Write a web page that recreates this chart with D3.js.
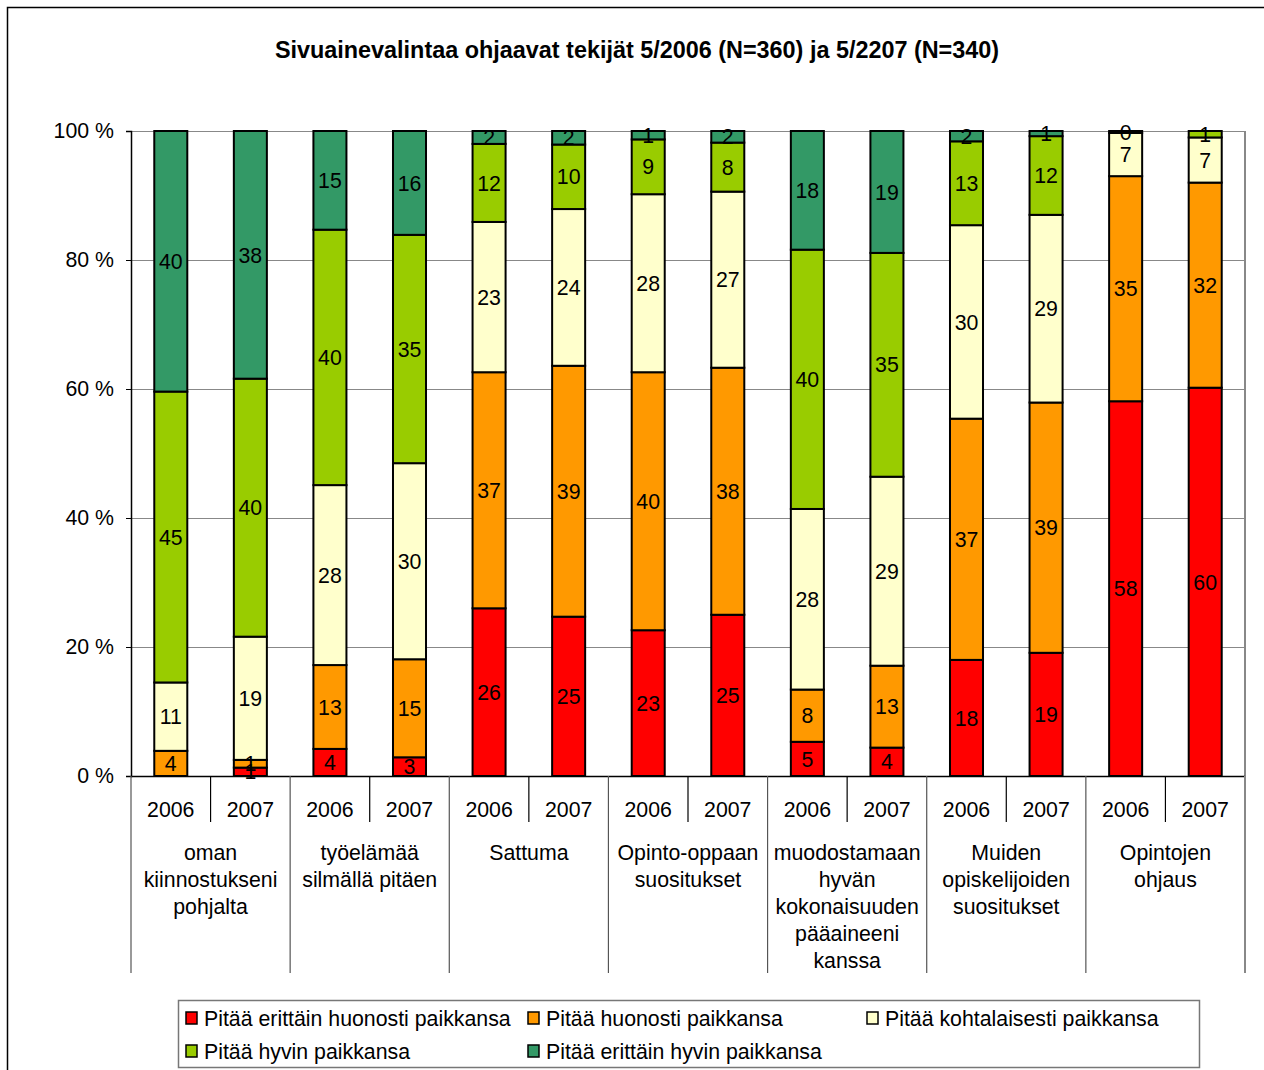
<!DOCTYPE html>
<html>
<head>
<meta charset="utf-8">
<script src="https://cdn.jsdelivr.net/npm/d3@7"></script>
<style>
  body { margin: 0; background: #fff; }
  svg text { font-family: "Liberation Sans", Arial, sans-serif; }
</style>
</head>
<body>
<div id="container"></div>
<script>
// bars: 14 columns, 2 years per group
var years = ["2006","2007","2006","2007","2006","2007","2006","2007","2006","2007","2006","2007","2006","2007"];
var groupLabels = [
  ["oman", "kiinnostukseni", "pohjalta"],
  ["työelämää", "silmällä pitäen"],
  ["Sattuma"],
  ["Opinto-oppaan", "suositukset"],
  ["muodostamaan", "hyvän", "kokonaisuuden", "pääaineeni", "kanssa"],
  ["Muiden", "opiskelijoiden", "suositukset"],
  ["Opintojen", "ohjaus"]
];
var seriesNames = [
  "Pitää erittäin huonosti paikkansa",
  "Pitää huonosti paikkansa",
  "Pitää kohtalaisesti paikkansa",
  "Pitää hyvin paikkansa",
  "Pitää erittäin hyvin paikkansa"
];
var seriesColors = ["#ff0000", "#ff9900", "#ffffcc", "#99cc00", "#339966"];

// percentages (null = no label / no segment)
var erittainHuonosti = [null, 1.3, 4.2, 2.9, 26.0, 24.7, 22.6, 25.0, 5.3, 4.4, 18.0, 19.1, 58.1, 60.2];
var huonosti         = [3.9, 1.2, 13.0, 15.2, 36.6, 38.9, 40.0, 38.3, 8.1, 12.7, 37.4, 38.8, 34.9, 31.8];
var kohtalaisesti    = [10.6, 19.1, 27.9, 30.4, 23.3, 24.3, 27.6, 27.3, 28.0, 29.3, 30.0, 29.1, 6.7, 7.0];
var hyvin            = [45.1, 40.0, 39.6, 35.4, 12.1, 10.0, 8.5, 7.6, 40.2, 34.7, 13.0, 12.2, null, 1.0];
var erittainHyvin    = [40.4, 38.4, 15.3, 16.1, 2.0, 2.1, 1.3, 1.8, 18.4, 18.9, 1.6, 0.8, 0.3, null];

var yTicks = [0, 20, 40, 60, 80, 100];

var series = [erittainHuonosti, huonosti, kohtalaisesti, hyvin, erittainHyvin];

(function() {
  var W = 1264, H = 1070;
  var pl = 131, pr = 1245, pt = 131, pb = 776;
  var fs = 21.3;

  var svg = d3.select('#container').append('svg')
    .attr('width', W).attr('height', H);

  // outer chart frame
  svg.append('rect')
    .attr('x', 7.5).attr('y', 7.5).attr('width', W + 10).attr('height', H + 10)
    .attr('fill', 'none').attr('stroke', '#000').attr('stroke-width', 1.5);

  svg.append('text')
    .attr('x', 637).attr('y', 58)
    .attr('text-anchor', 'middle')
    .attr('font-size', 23.4).attr('font-weight', 'bold')
    .text('Sivuainevalintaa ohjaavat tekijät 5/2006 (N=360) ja 5/2207 (N=340)');

  var x = d3.scaleBand()
    .domain(d3.range(years.length))
    .range([pl, pr])
    .paddingInner(0.585).paddingOuter(0.2925);
  var step = x.step();

  var y = d3.scaleLinear().domain([0, 100]).range([pb, pt]);

  // gridlines + plot border
  svg.append('g').selectAll('line').data(yTicks.filter(function(t) { return t > 0; }))
    .enter().append('line')
    .attr('x1', pl).attr('x2', pr)
    .attr('y1', function(d) { return y(d) + 0.5; })
    .attr('y2', function(d) { return y(d) + 0.5; })
    .attr('stroke', '#888').attr('stroke-width', 1.2);
  svg.append('line')
    .attr('x1', pr).attr('x2', pr).attr('y1', pt).attr('y2', pb)
    .attr('stroke', '#888').attr('stroke-width', 2);

  // stacks
  var rows = years.map(function(yr, i) {
    var o = { i: i };
    series.forEach(function(s, k) { o['s' + k] = s[i] || 0; });
    return o;
  });
  var stacked = d3.stack().keys(series.map(function(s, k) { return 's' + k; }))(rows);

  var layers = svg.append('g').selectAll('g').data(stacked).enter().append('g')
    .attr('fill', function(d, k) { return seriesColors[k]; });

  layers.selectAll('rect')
    .data(function(d) { return d.filter(function(p, i) { return series[d.index][i] !== null; }); })
    .enter().append('rect')
    .attr('x', function(d) { return x(d.data.i); })
    .attr('width', x.bandwidth())
    .attr('y', function(d) { return y(d[1]); })
    .attr('height', function(d) { return y(d[0]) - y(d[1]); })
    .attr('stroke', '#000').attr('stroke-width', 2);

  // data labels
  var labels = [];
  stacked.forEach(function(layer, k) {
    layer.forEach(function(p, i) {
      if (series[k][i] === null) return;
      labels.push({ x: x(i) + x.bandwidth() / 2, y: y((p[0] + p[1]) / 2), v: Math.round(series[k][i]) });
    });
  });
  svg.append('g').selectAll('text').data(labels).enter().append('text')
    .attr('x', function(d) { return d.x; })
    .attr('y', function(d) { return d.y; })
    .attr('dy', '0.36em')
    .attr('text-anchor', 'middle')
    .attr('font-size', fs)
    .text(function(d) { return d.v; });

  // y axis
  var yAxis = d3.axisLeft(y).tickValues(yTicks)
    .tickFormat(function(d) { return d + ' %'; })
    .tickSize(5).tickPadding(12);
  var ga = svg.append('g').attr('transform', 'translate(' + pl + ',0)').call(yAxis);
  ga.select('.domain').attr('stroke', '#000').attr('stroke-width', 1.5);
  ga.selectAll('.tick line').attr('stroke', '#000');
  ga.selectAll('.tick text').attr('font-size', fs).attr('fill', '#000')
    .style('font-family', '"Liberation Sans", Arial, sans-serif');

  // category axis (two levels)
  svg.append('line')
    .attr('x1', pl).attr('x2', pr).attr('y1', pb + 0.5).attr('y2', pb + 0.5)
    .attr('stroke', '#000').attr('stroke-width', 1.5);

  var cat = svg.append('g');
  years.forEach(function(yr, i) {
    var cx = x(i) + x.bandwidth() / 2;
    cat.append('text')
      .attr('x', cx).attr('y', 809).attr('dy', '0.36em')
      .attr('text-anchor', 'middle').attr('font-size', fs)
      .text(yr);
    if (i % 2 === 1) {
      var bx = pl + step * i;
      cat.append('line')
        .attr('x1', bx).attr('x2', bx).attr('y1', pb).attr('y2', 822)
        .attr('stroke', '#000').attr('stroke-width', 1.2);
    }
  });
  groupLabels.forEach(function(lines, g) {
    var gx = pl + step * 2 * g;
    cat.append('line')
      .attr('x1', gx).attr('x2', gx).attr('y1', pb).attr('y2', 973)
      .attr('stroke', '#555').attr('stroke-width', 1.2);
    var t = cat.append('text')
      .attr('text-anchor', 'middle').attr('font-size', fs);
    lines.forEach(function(ln, j) {
      t.append('tspan').attr('x', gx + step).attr('y', 852 + j * 27).attr('dy', '0.36em').text(ln);
    });
  });
  cat.append('line')
    .attr('x1', pr).attr('x2', pr).attr('y1', pb).attr('y2', 973)
    .attr('stroke', '#888').attr('stroke-width', 2);

  // legend
  var legend = svg.append('g');
  legend.append('rect')
    .attr('x', 178.5).attr('y', 1000.5).attr('width', 1021).attr('height', 67)
    .attr('fill', '#fff').attr('stroke', '#777').attr('stroke-width', 1.5);
  var legPos = [[186, 1018], [528, 1018], [867, 1018], [186, 1051], [528, 1051]];
  seriesNames.forEach(function(name, k) {
    var p = legPos[k];
    legend.append('rect')
      .attr('x', p[0]).attr('y', p[1] - 6).attr('width', 11).attr('height', 12)
      .attr('fill', seriesColors[k]).attr('stroke', '#000').attr('stroke-width', 1.5);
    legend.append('text')
      .attr('x', p[0] + 18).attr('y', p[1]).attr('dy', '0.36em')
      .attr('font-size', fs)
      .text(name);
  });
})();
</script>
</body>
</html>
